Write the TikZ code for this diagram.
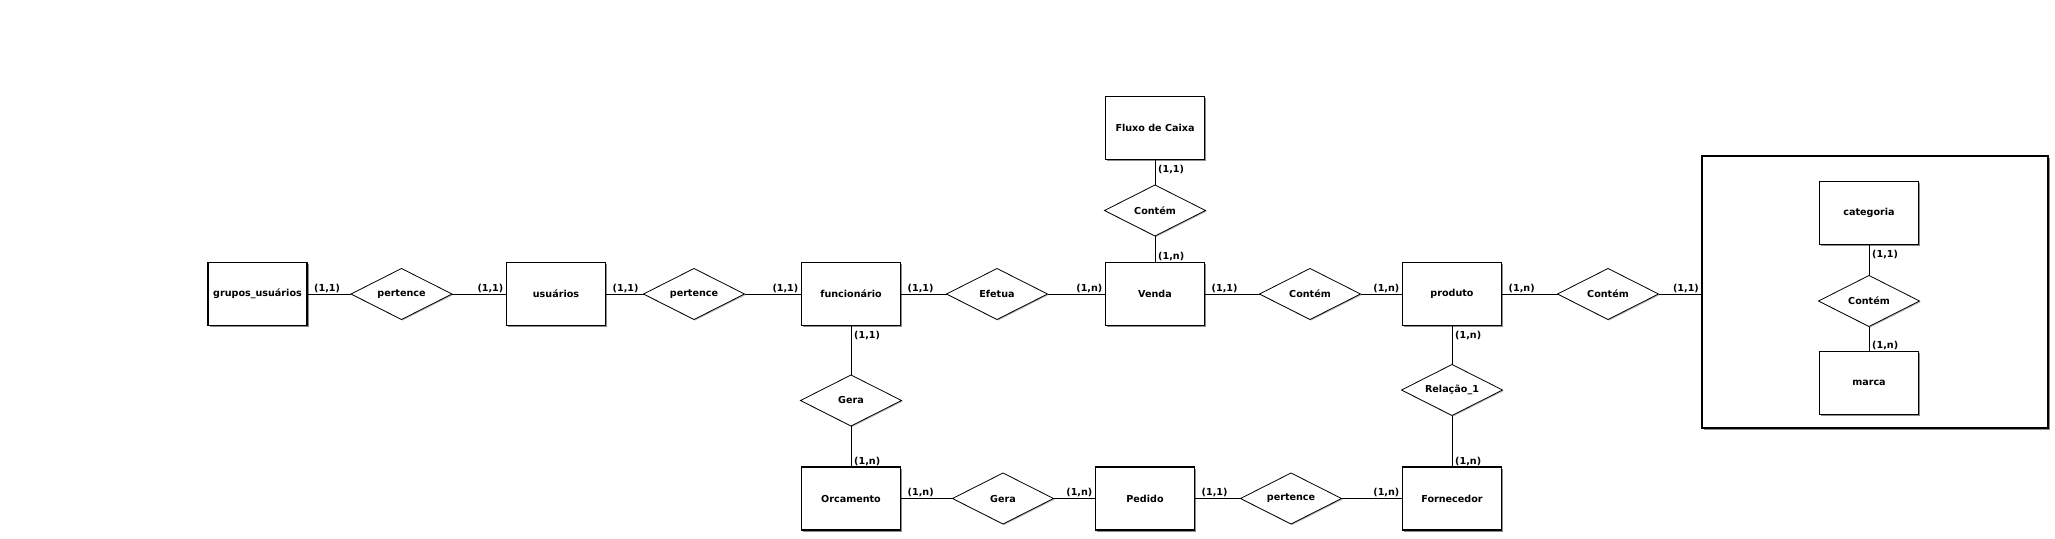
\documentclass[tikz,border=0pt]{standalone}
\usepackage{fontspec}
\setmainfont{DejaVu Sans}
\usetikzlibrary{shapes.geometric, shadows}
\newcommand{\um}{(1,1)}
\newcommand{\en}{(1,n)}

\begin{document}
\begin{tikzpicture}[x=1pt, y=-1pt,
  font=\fontsize{9.6}{11}\selectfont\bfseries,
  sombra/.style={drop shadow={shadow xshift=1.5pt, shadow yshift=-1.5pt, fill=black!45, opacity=1}},
  entidade/.style={rectangle, draw, line width=1.4pt, fill=white, sombra,
    minimum width=99pt, minimum height=63pt, inner sep=0pt, outer sep=0pt},
  relacao/.style={diamond, draw, line width=0.8pt, fill=white, aspect=2,
    drop shadow={shadow xshift=1pt, shadow yshift=-1pt, fill=black!30, opacity=1},
    minimum width=101pt, minimum height=51pt, inner sep=0pt, outer sep=0pt},
  card/.style={inner sep=1pt}]
  \useasboundingbox (0,0) rectangle (2055,538);

  % caixa de categoria / marca
  \node[draw, line width=1.4pt, fill=white, sombra, outer sep=0pt,
    minimum width=346pt, minimum height=272pt] (frame) at (1875,292) {};

  % linha principal
  \node[entidade] (grupos) at (257.5,294) {grupos\_usuários};
  \node[relacao] (pert1) at (401.5,294) {pertence};
  \node[entidade] (usuarios) at (556,294) {usuários};
  \node[relacao] (pert2) at (694,294) {pertence};
  \node[entidade] (func) at (851,294) {funcionário};
  \node[relacao] (efetua) at (997,294) {Efetua};
  \node[entidade] (venda) at (1155,294) {Venda};
  \node[relacao] (cont1) at (1310,294) {Contém};
  \node[entidade] (produto) at (1452,294) {produto};
  \node[relacao] (cont2) at (1608,294) {Contém};

  \node[entidade] (fluxo) at (1155,128) {Fluxo de Caixa};
  \node[relacao] (cont0) at (1155,210.5) {Contém};
  \node[relacao] (gera1) at (851,400.5) {Gera};
  \node[relacao] (rel) at (1452,390) {Relação\_1};

  % linha de baixo
  \node[entidade] (orc) at (851,498.5) {Orcamento};
  \node[relacao] (gera2) at (1003,498.5) {Gera};
  \node[entidade] (pedido) at (1145,498.5) {Pedido};
  \node[relacao] (pert3) at (1291,498.5) {pertence};
  \node[entidade] (fornec) at (1452,498.5) {Fornecedor};

  \node[entidade] (categ) at (1869,213) {categoria};
  \node[relacao] (cont3) at (1869,301) {Contém};
  \node[entidade] (marca) at (1869,383) {marca};

  \foreach \e/\r/\c in {grupos/pert1/\um, usuarios/pert2/\um, func/efetua/\um,
    venda/cont1/\um, produto/cont2/\en, orc/gera2/\en, pedido/pert3/\um}{
    \draw (\e) -- (\r) node[card, at start, anchor=south west, xshift=6pt] {\c};
  };
  \foreach \r/\e/\c in {pert1/usuarios/\um, pert2/func/\um, efetua/venda/\en,
    cont1/produto/\en, gera2/pedido/\en, pert3/fornec/\en}{
    \draw (\r) -- (\e) node[card, at end, anchor=south east, xshift=-2pt] {\c};
  };
  \draw (cont2) -- (cont2 -| frame.west) node[card, at end, anchor=south east, xshift=-2pt] {\um};

  \foreach \e/\r/\c in {fluxo/cont0/\um, func/gera1/\um, produto/rel/\en, categ/cont3/\um}{
    \draw (\e) -- (\r) node[card, at start, anchor=north west, xshift=2pt, yshift=-5pt] {\c};
  };
  \foreach \r/\e/\c in {cont0/venda/\en, gera1/orc/\en, rel/fornec/\en, cont3/marca/\en}{
    \draw (\r) -- (\e) node[card, at end, anchor=south west, xshift=2pt] {\c};
  };
\end{tikzpicture}
\end{document}
